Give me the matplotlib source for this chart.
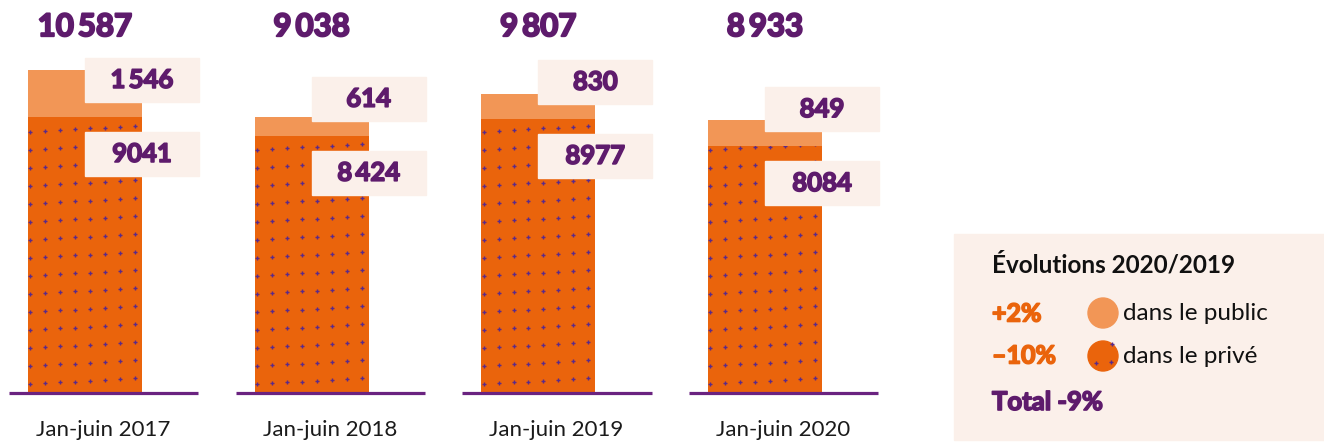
# Salariés - comparaison janvier-juin, public / privé
import numpy as np
import matplotlib.pyplot as plt
import matplotlib.patheffects as pe
from matplotlib.patches import Rectangle, Circle

plt.rcParams['font.family'] = ['Lato', 'DejaVu Sans']

periodes = ['Jan-juin 2017', 'Jan-juin 2018', 'Jan-juin 2019', 'Jan-juin 2020']
prive = [9041, 8424, 8977, 8084]
public = [1546, 614, 830, 849]
totaux = ['10\u2009587', '9\u2009038', '9\u2009807', '8\u2009933']
lab_public = ['1\u2009546', '614', '830', '849']
lab_prive = ['9041', '8\u2009424', '8977', '8084']

c_prive = '#EA640C'
c_public = '#F29656'
c_violet = '#5E1B6C'
c_dots = '#5A2A8A'
c_fond = '#FBF0EA'


def gras(c, lw=1.2):
    return [pe.withStroke(linewidth=lw, foreground=c)]


fig = plt.figure(figsize=(13.24, 4.44), dpi=100)
ax = fig.add_axes([0, 51 / 444, 940 / 1324, 393 / 444])
x = np.arange(len(periodes))
w = 0.503

bars_prive = ax.bar(x, prive, width=w, color=c_prive, zorder=2)
ax.bar(x, public, bottom=prive, width=w, color=c_public, zorder=2)

# petites croix violettes dans la partie privée
for b in bars_prive:
    x0 = b.get_x()
    xs, ys = [], []
    for j, yy in enumerate(np.arange(-300, b.get_height() + 600, 590)):
        for i, xx in enumerate(np.arange(x0 + 0.01, x0 + w, 0.066)):
            xs.append(xx)
            ys.append(yy + i * 28)
    sc = ax.scatter(xs, ys, marker='+', s=10, color=c_dots, lw=1, zorder=3)
    sc.set_clip_path(b)

for xi in x:
    ax.plot([xi - 0.335, xi + 0.5], [0, 0], color='#6A2380', lw=2.3, zorder=4,
            solid_capstyle='butt', clip_on=False)

off = 1212
hb = 1441
for i in range(len(x)):
    for yc, txt in [(prive[i] + off, lab_public[i]), (prive[i] - off, lab_prive[i])]:
        ax.add_patch(Rectangle((x[i], yc - hb / 2), w, hb, color=c_fond, zorder=5))
        ax.text(x[i] + w / 2, yc, txt, ha='center', va='center', fontsize=18.5,
                fontweight='bold', color=c_violet, zorder=6, path_effects=gras(c_violet))
    ax.text(x[i], 0.931, totaux[i], transform=ax.get_xaxis_transform(), ha='center',
            va='center', fontsize=22.5, fontweight='bold', color=c_violet,
            path_effects=gras(c_violet, 1.5))
    ax.text(x[i] + 0.08, -0.094, periodes[i], transform=ax.get_xaxis_transform(),
            ha='center', va='center', fontsize=16, color='#1a1a1a')

ax.set_xlim(-0.375, 3.772)
ax.set_ylim(0, 12870)
ax.axis('off')

# encadré des évolutions (coordonnées en pixels)
lg = fig.add_axes([0, 0, 1, 1])
lg.set_xlim(0, 1324)
lg.set_ylim(444, 0)
lg.axis('off')
lg.add_patch(Rectangle((954, 234), 370, 206, color=c_fond))
lg.text(992, 265, 'Évolutions 2020/2019', fontsize=17.5, fontweight='bold',
        color='#111111', va='center')
lg.text(992, 314, '+2%', fontsize=18, fontweight='bold', color=c_prive, va='center',
        path_effects=gras(c_prive))
lg.text(992, 356, '\u201310%', fontsize=18, fontweight='bold', color=c_prive, va='center',
        path_effects=gras(c_prive))
lg.text(992, 402, 'Total -9%', fontsize=18.5, fontweight='bold', color=c_violet,
        va='center', path_effects=gras(c_violet))
lg.add_patch(Circle((1103, 313), 15, color=c_public))
lg.add_patch(Circle((1103, 356), 15, color=c_prive))
lg.scatter([1112, 1111, 1096], [344, 362, 363], marker='+', s=8, color=c_dots, lw=1)
lg.text(1123, 313, 'dans le public', fontsize=17.5, color='#111111', va='center')
lg.text(1123, 356, 'dans le privé', fontsize=17.5, color='#111111', va='center')

fig.savefig('out.png', dpi=100)
